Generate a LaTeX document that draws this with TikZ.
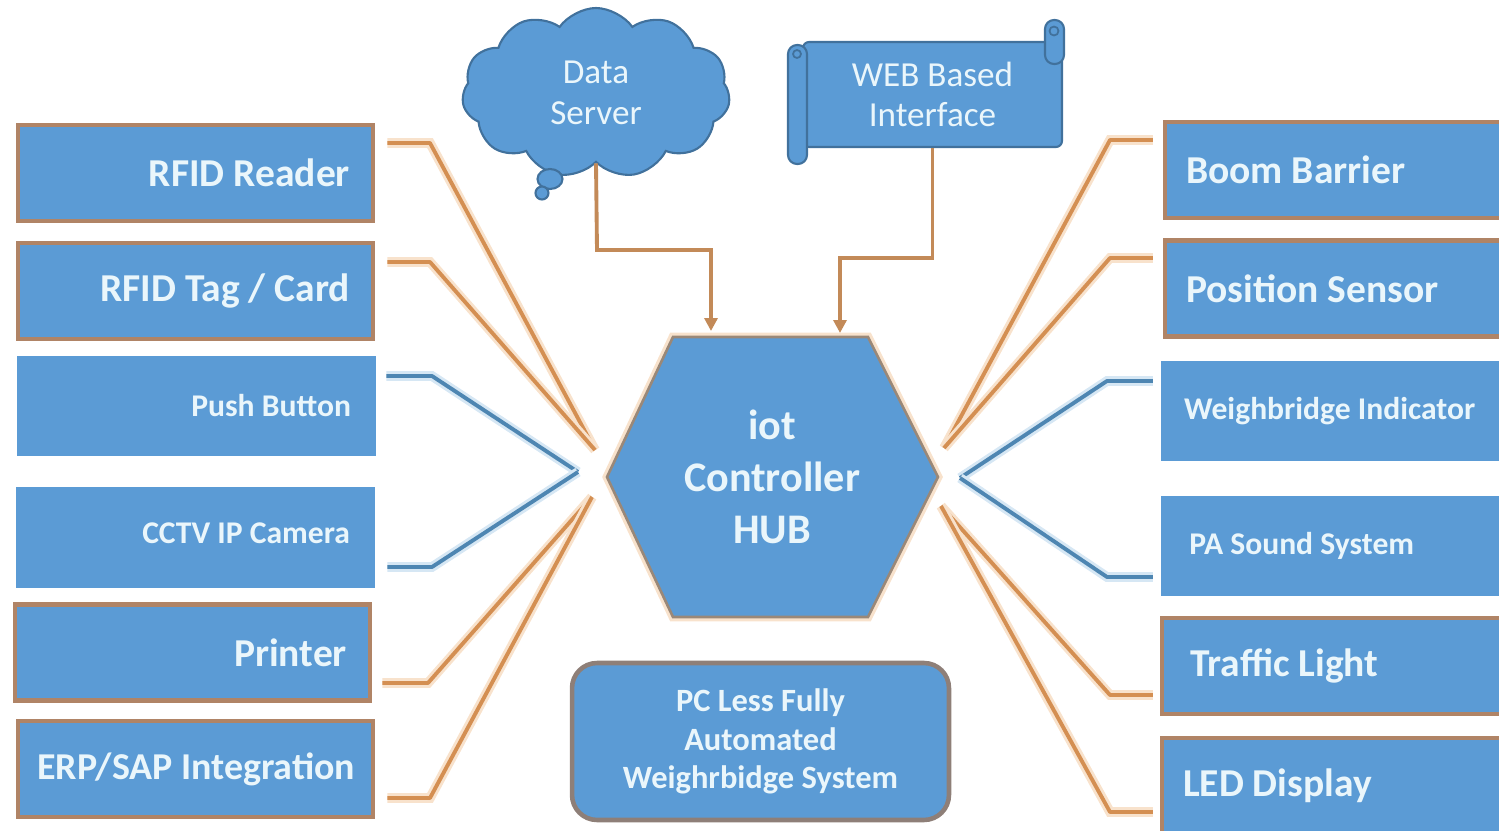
\documentclass[tikz,border=0pt]{standalone}
\usepackage{fontspec}
\setmainfont{Carlito}
\usetikzlibrary{shapes.symbols,shapes.geometric,arrows.meta}
\definecolor{boxblue}{HTML}{5B9BD5}
\definecolor{brownline}{HTML}{B08466}
\definecolor{orangeline}{HTML}{D48F52}
\definecolor{blueline}{HTML}{4E86B2}
\definecolor{txt}{HTML}{EAF6FB}
\definecolor{hexline}{HTML}{9A8878}
\definecolor{frameline}{HTML}{8E7F78}
\definecolor{glowo}{HTML}{F8E2CC}
\definecolor{glowb}{HTML}{D6E7F4}
\definecolor{arrowc}{HTML}{C38A58}
\definecolor{cloudline}{HTML}{41719C}
\newcommand\rtxt[1]{\makebox[\linewidth][r]{#1}}
\begin{document}
\begin{tikzpicture}[x=0.02cm,y=-0.02cm,
  box/.style={rectangle, fill=boxblue, line width=2.6pt, minimum width=7.1cm, minimum height=1.92cm, text=txt, inner ysep=0pt},
  lbox/.style={box, draw=brownline, text width=6.18cm, inner xsep=0.46cm, align=flush right, font=\bfseries\fontsize{22.5}{27}\selectfont},
  rbox/.style={box, draw=brownline, text width=6.26cm, inner xsep=0.42cm, align=flush left, font=\bfseries\fontsize{22.5}{27}\selectfont},
  noframe/.style={draw=boxblue},
  smalltext/.style={font=\bfseries\fontsize{18}{22}\selectfont},
  oline/.style={draw=orangeline, line width=2.2pt, line join=round, preaction={draw=glowo, line width=5.5pt}},
  bline/.style={draw=blueline, line width=2.2pt, line join=round, preaction={draw=glowb, line width=5.5pt}},
  arr/.style={draw=arrowc, line width=2.2pt, -{Triangle[length=0.26cm,width=0.26cm]}},
  scrollb/.style={fill=boxblue, draw=cloudline, line width=1.2pt},
]
\useasboundingbox (0,0) rectangle (1499,831);
\clip (0,0) rectangle (1499,831);

% hub hexagon
\draw[fill=boxblue, draw=hexline, line width=1.5pt, preaction={draw=glowo, line width=5pt}]
  (607,477) -- (673,337) -- (868,337) -- (938,477) -- (868,617) -- (673,617) -- cycle;
\node[text=txt, align=center, font=\bfseries\fontsize{24}{29.5}\selectfont] (hub) at (772,477) {iot\\Controller\\HUB};

% endpoints at the hub
\coordinate (hl1) at (595,450);
\coordinate (hl2) at (578,472);
\coordinate (hl3) at (592,497);
\coordinate (hr1) at (944,448);
\coordinate (hr2) at (960,478);
\coordinate (hr3) at (941,506);
\coordinate (ha1) at (711,331);
\coordinate (ha2) at (840,333);

% left boxes
\node[lbox] (rfid) at (195.5,173) {RFID Reader};
\node[lbox] (tag) at (195.5,291) {RFID Tag / Card};
\node[lbox, noframe, smalltext] (push) at (196.5,406) {Push Button};
\node[lbox, noframe, smalltext] (cctv) at (195.5,537.5) {\raisebox{5pt}{CCTV IP Camera}};
\node[lbox] (printer) at (192.5,652.5) {Printer};
\node[lbox, font=\bfseries\fontsize{21.6}{27}\selectfont] (erp) at (195.5,769) {\rtxt{ERP/SAP Integration\hspace{-3pt}}};

% right boxes
\node[rbox] (boom) at (1342.5,170) {Boom Barrier};
\node[rbox] (pos) at (1342.5,288.5) {Position Sensor};
\node[rbox, noframe, smalltext] (wbi) at (1340.5,411) {Weighbridge Indicator};
\node[rbox, noframe, smalltext] (pa) at (1340.5,546) {\hspace{3pt}PA Sound System};
\node[rbox] (traffic) at (1339.5,666) {\hspace{4pt}Traffic Light};
\node[rbox] (led) at (1339.5,786) {LED Display};

% left connectors
\draw[oline] ([shift={(12,-30)}]rfid.east) -- (430,143) -- (hl1);
\draw[oline] ([shift={(12,-29)}]tag.east) -- (430,262) -- (hl1);
\draw[bline] ([shift={(10,-30)}]push.east) -- (432,376) -- (hl2);
\draw[bline] ([shift={(12,29.5)}]cctv.east) -- (432,567) -- (hl2);
\draw[oline] ([shift={(10,30.5)}]printer.east) -- (428,683) -- (hl3);
\draw[oline] ([shift={(12,29)}]erp.east) -- (430,798) -- (hl3);

% right connectors
\draw[oline] ([shift={(-10,-30)}]boom.west) -- (1110,140) -- (hr1);
\draw[oline] ([shift={(-10,-30.5)}]pos.west) -- (1110,258) -- (hr1);
\draw[bline] ([shift={(-8,-30)}]wbi.west) -- (1107,381) -- (hr2);
\draw[bline] ([shift={(-8,31)}]pa.west) -- (1107,577) -- (hr2);
\draw[oline] ([shift={(-7,29)}]traffic.west) -- (1110,695) -- (hr3);
\draw[oline] ([shift={(-7,26)}]led.west) -- (1110,812) -- (hr3);

% data server cloud
\node[cloud, cloud puffs=11, cloud puff arc=110, aspect=1.55, fill=boxblue, draw=cloudline, line width=1.2pt,
      minimum width=5.36cm, minimum height=3.4cm, inner sep=0pt,
      text=txt, align=center, font=\fontsize{20}{23}\selectfont] (cloud) at (596,93) {Data\\Server};
\node[ellipse, fill=boxblue, draw=cloudline, line width=1.2pt, minimum width=0.5cm, minimum height=0.4cm, inner sep=0pt] (bub1) at (550,179) {};
\node[circle, fill=boxblue, draw=cloudline, line width=1.2pt, minimum size=0.26cm, inner sep=0pt] (bub2) at (542,193) {};

% web based interface scroll
\node[rectangle, rounded corners=0.12cm, fill=boxblue, draw=cloudline, line width=1.2pt,
      minimum width=5.18cm, minimum height=2.1cm, inner sep=0pt,
      text=txt, align=center, font=\fontsize{20}{23}\selectfont] (web) at (932.5,94.5) {WEB Based\\Interface};
\draw[scrollb, rounded corners=0.18cm] (1045,20) rectangle (1064,64);
\draw[cloudline, line width=1pt] (1054,31) circle (0.09cm);
\draw[scrollb, rounded corners=0.18cm] (788,45) rectangle (807,164);
\draw[cloudline, line width=1pt] (797,54) circle (0.08cm);

% arrows into hub
\draw[arr] (cloud.south) -- (597,250) -- (711,250) -- (ha1);
\draw[arr] (web.south) -- (932.5,258) -- (840,258) -- (ha2);

% bottom caption box
\node[rectangle, rounded corners=0.5cm, fill=boxblue, draw=frameline, line width=2.6pt,
      minimum width=7.54cm, minimum height=3.14cm, text=txt, align=center,
      font=\bfseries\fontsize{18.5}{22}\selectfont] (pcless) at (760.5,741.5)
      {PC Less Fully\\Automated\\Weighrbidge System};
\end{tikzpicture}
\end{document}
